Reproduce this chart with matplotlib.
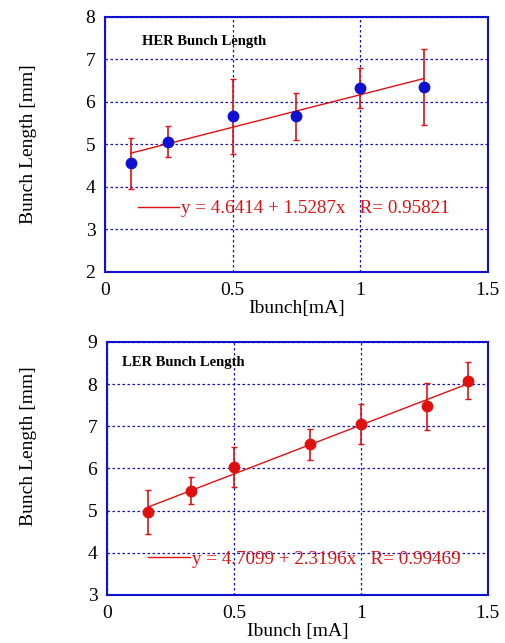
import matplotlib
matplotlib.use('Agg')
import matplotlib.pyplot as plt
from matplotlib.lines import Line2D
import numpy as np

plt.rcParams['font.family'] = ['Liberation Serif', 'DejaVu Serif']

# HER data
her_x = [0.10, 0.245, 0.50, 0.75, 1.00, 1.25]
her_y = [4.56, 5.07, 5.66, 5.66, 6.33, 6.36]
her_err = [0.60, 0.36, 0.89, 0.56, 0.48, 0.89]
her_fit = (4.6414, 1.5287)
her_label = 'y = 4.6414 + 1.5287x   R= 0.95821'

# LER data
ler_x = [0.16, 0.33, 0.50, 0.80, 1.00, 1.26, 1.42]
ler_y = [4.97, 5.47, 6.04, 6.57, 7.05, 7.47, 8.08]
ler_err = [0.52, 0.32, 0.47, 0.37, 0.47, 0.56, 0.44]
ler_fit = (4.7099, 2.3196)
ler_label = 'y = 4.7099 + 2.3196x   R= 0.99469'

blue = '#1010d0'
red = '#e01010'

fig = plt.figure(figsize=(5.05, 6.43), dpi=100)
ax1 = fig.add_axes([0.208, 0.577, 0.758, 0.3966])
ax2 = fig.add_axes([0.212, 0.0747, 0.754, 0.3935])


def draw(ax, x, y, err, fit, label, mcolor, title, ylim, yticks, xlabel,
         title_pos, leg_pos, ylab_pos):
    x = np.array(x)
    ax.errorbar(x, y, yerr=err, fmt='none', ecolor=red, elinewidth=1.2,
                capsize=2.5, capthick=1, zorder=3)
    ax.plot(x, y, 'o', color=mcolor, markersize=7.5, zorder=4)
    xf = np.array([x.min(), x.max()])
    ax.plot(xf, fit[0] + fit[1] * xf, color=red, lw=1, zorder=3)
    ax.set_xlim(0, 1.5)
    ax.set_ylim(*ylim)
    ax.set_xticks([0, 0.5, 1, 1.5])
    ax.set_xticklabels(['0', '0.5', '1', '1.5'])
    ax.set_yticks(yticks)
    ax.grid(True, color=blue, linestyle=(0, (2, 2)), linewidth=0.9)
    ax.tick_params(length=0, labelsize=14, pad=7)
    for s in ax.spines.values():
        s.set_color(blue)
        s.set_linewidth(1.5)
    ax.set_xlabel(xlabel, fontsize=14, labelpad=1)
    ax.set_ylabel('Bunch Length [mm]', fontsize=14)
    ax.yaxis.set_label_coords(*ylab_pos)
    ax.text(title_pos[0], title_pos[1], title, transform=ax.transAxes,
            fontsize=10.5, fontweight='bold', va='center', ha='left')
    h = Line2D([], [], color=red, lw=1)
    leg = ax.legend([h], [label], loc='center left', bbox_to_anchor=leg_pos,
                    frameon=False, fontsize=13.7, handlelength=2.2,
                    handletextpad=0.1, borderpad=0, borderaxespad=0)
    for t in leg.get_texts():
        t.set_color(red)


draw(ax1, her_x, her_y, her_err, her_fit, her_label, blue, 'HER Bunch Length',
     (2, 8), range(2, 9), 'Ibunch[mA]', (0.097, 0.905), (0.085, 0.248),
     (-0.177, 0.5))
draw(ax2, ler_x, ler_y, ler_err, ler_fit, ler_label, red, 'LER Bunch Length',
     (3, 9), range(3, 10), 'Ibunch [mA]', (0.039, 0.92), (0.108, 0.142),
     (-0.183, 0.589))

plt.savefig('out.png', dpi=100)
